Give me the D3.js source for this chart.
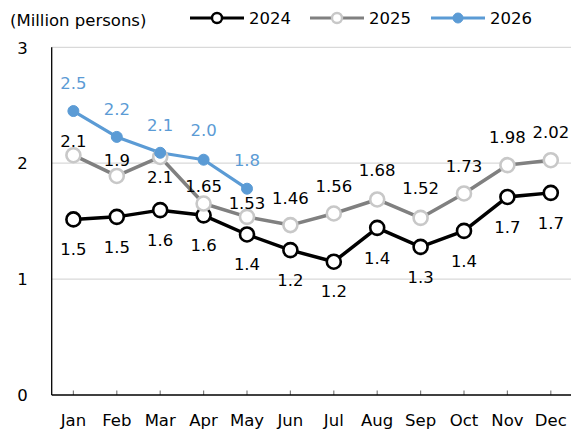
<!DOCTYPE html>
<html><head><meta charset="utf-8">
<script src="https://cdn.jsdelivr.net/npm/d3@7"></script>
<style>
html,body{margin:0;padding:0;background:#fff;}
svg{display:block;font-family:"DejaVu Sans",Verdana,sans-serif;}
</style></head>
<body><svg id="c" width="571" height="434"></svg>
<script>
const months = ["Jan","Feb","Mar","Apr","May","Jun","Jul","Aug","Sep","Oct","Nov","Dec"];
const v2024 = [1.515,1.537,1.595,1.55,1.385,1.25,1.15,1.442,1.278,1.416,1.709,1.744];
const v2025 = [2.069,1.89,2.054,1.652,1.537,1.466,1.566,1.687,1.528,1.739,1.983,2.026];
const v2026 = [2.45,2.227,2.09,2.03,1.78];
const lab2024 = ["1.5","1.5","1.6","1.6","1.4","1.2","1.2","1.4","1.3","1.4","1.7","1.7"];
const lab2025 = ["2.1","1.9","2.1","1.65","1.53","1.46","1.56","1.68","1.52","1.73","1.98","2.02"];
const lab2026 = ["2.5","2.2","2.1","2.0","1.8"];
// label vertical offsets (layout, px)
const off2024 = [30,30,30,30,30,30,30,30,30,30,30,30];
const off2025 = [-14,-16,20,-17,-14,-27,-27,-29,-30,-27,-28,-28];
const off2026 = [-28,-28,-28,-29,-28];
const yTicks = [0,1,2,3];
const unitLabel = "(Million persons)";

(function(){
const svg = d3.select("#c");
const pl = 51.7, pr = 572.5, pt = 47.3, pb = 395;
const x = d3.scaleBand().domain(months).range([pl, pr]);
const y = d3.scaleLinear().domain([0,3]).range([pb, pt]);
const cx = m => x(m) + x.bandwidth()/2;

svg.append("g").selectAll("line").data(yTicks.filter(d=>d>0)).join("line")
  .attr("x1", pl).attr("x2", pr).attr("y1", d=>y(d)).attr("y2", d=>y(d))
  .attr("stroke", "#d9d9d9").attr("stroke-width", 1.3);

svg.append("g").selectAll("text").data(yTicks).join("text")
  .attr("x", 22.5).attr("y", d=>y(d)+0.5).attr("dy","0.35em").attr("text-anchor","middle")
  .attr("font-size", 16.5).attr("fill", "#000").text(d=>d);

svg.append("g").selectAll("line").data(months).join("line")
  .attr("x1", d=>cx(d)).attr("x2", d=>cx(d)).attr("y1", pb).attr("y2", pb-4.5)
  .attr("stroke", "#808080").attr("stroke-width", 1.2);
svg.append("line").attr("x1", pl).attr("x2", pl).attr("y1", pt).attr("y2", pb)
  .attr("stroke","#000").attr("stroke-width",1.3);
svg.append("line").attr("x1", pl).attr("x2", pr).attr("y1", pb).attr("y2", pb)
  .attr("stroke","#000").attr("stroke-width",1.3);
svg.append("g").selectAll("text").data(months).join("text")
  .attr("x", d=>cx(d)).attr("y", 425.5).attr("text-anchor","middle")
  .attr("font-size", 16.5).attr("fill","#000").text(d=>d);

const series = [
  {vals:v2024, labs:lab2024, offs:off2024, line:"#000000", lw:3.5, mfill:"#fff", mstroke:"#000", r:7, msw:2.6, tcol:"#000"},
  {vals:v2025, labs:lab2025, offs:off2025, line:"#808080", lw:3.5, mfill:"#fff", mstroke:"#c8c8c8", r:7, msw:2.6, tcol:"#000"},
  {vals:v2026, labs:lab2026, offs:off2026, line:"#5b9bd5", lw:3.2, mfill:"#5b9bd5", mstroke:"#5b9bd5", r:5.5, msw:1, tcol:"#5b9bd5"}
];
const lineGen = d3.line().x((d,i)=>cx(months[i])).y(d=>y(d));
series.forEach(s=>{
  svg.append("path").datum(s.vals).attr("d", lineGen).attr("fill","none")
    .attr("stroke", s.line).attr("stroke-width", s.lw).attr("stroke-linejoin","round");
});
series.forEach(s=>{
  svg.append("g").selectAll("circle").data(s.vals).join("circle")
    .attr("cx",(d,i)=>cx(months[i])).attr("cy",d=>y(d)).attr("r",s.r)
    .attr("fill",s.mfill).attr("stroke",s.mstroke).attr("stroke-width",s.msw);
});
series.forEach(s=>{
  svg.append("g").selectAll("text").data(s.vals).join("text")
    .attr("x",(d,i)=>cx(months[i])).attr("y",(d,i)=>y(d)+s.offs[i]).attr("dy","0.35em")
    .attr("text-anchor","middle").attr("font-size",16.5).attr("fill",s.tcol)
    .text((d,i)=>s.labs[i]);
});

svg.append("text").attr("x", 10).attr("y", 20).attr("dy","0.35em").attr("font-size",16.5)
  .attr("fill","#000").text(unitLabel);

const legend = [
  {name:"2024", x0:190, s:series[0]},
  {name:"2025", x0:310, s:series[1]},
  {name:"2026", x0:431, s:series[2]}
];
legend.forEach(l=>{
  const g = svg.append("g");
  g.append("line").attr("x1", l.x0).attr("x2", l.x0+54).attr("y1",18).attr("y2",18)
    .attr("stroke", l.s.line).attr("stroke-width", 3);
  g.append("circle").attr("cx", l.x0+27).attr("cy",18).attr("r", 5)
    .attr("fill", l.s.mfill).attr("stroke", l.s.mstroke).attr("stroke-width", l.s.msw === 1 ? 1 : 2.4);
  g.append("text").attr("x", l.x0+59).attr("y",18.5).attr("dy","0.35em").attr("font-size",16.5)
    .attr("fill","#000").text(l.name);
});
})();
</script>
</body></html>
